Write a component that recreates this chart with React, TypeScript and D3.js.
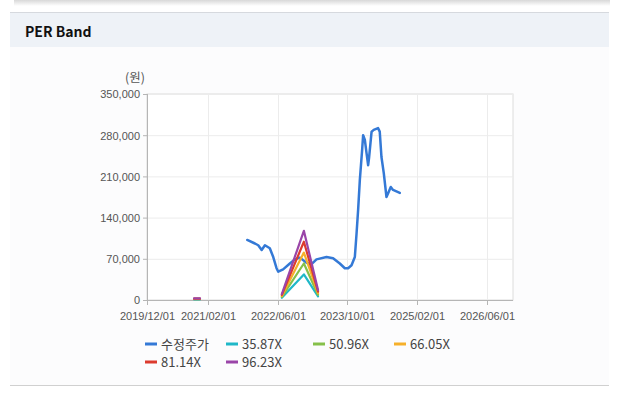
import * as d3 from 'd3';

// 수정주가 (adjusted price)
const priceDates = [
	'2021-10-31', '2021-12-24', '2022-01-16', '2022-02-09', '2022-03-04', '2022-04-07',
	'2022-05-01', '2022-05-24', '2022-06-05', '2022-07-09', '2022-08-25', '2022-09-29',
	'2022-11-03', '2022-12-15', '2023-01-20', '2023-02-27', '2023-05-08', '2023-06-23',
	'2023-08-09', '2023-09-13', '2023-10-06', '2023-10-30', '2023-11-22', '2023-12-04',
	'2023-12-15', '2023-12-27', '2024-01-12', '2024-01-19', '2024-01-31', '2024-02-12',
	'2024-02-23', '2024-03-01', '2024-03-18', '2024-04-02', '2024-05-02', '2024-05-14',
	'2024-05-26', '2024-06-11', '2024-06-30', '2024-07-11', '2024-07-30', '2024-08-15',
	'2024-10-01',
];
const priceValues = [
	102000, 96000, 93000, 85000, 93000, 88000,
	73000, 54000, 48000, 52000, 62000, 69000,
	72000, 64000, 60000, 69000, 73000, 71000,
	62000, 54000, 54000, 59000, 73000, 113000,
	153000, 204000, 255000, 280000, 272000, 249000,
	229000, 243000, 286000, 289000, 292000, 286000,
	243000, 216000, 175000, 181000, 192000, 187000,
	182000,
];

// PER band lines
const bandEarlyDates = ['2020-10-25', '2020-12-05'];
const bandDates = ['2022-06-30', '2022-12-01', '2023-03-10'];
const bandNames = ['35.87X', '50.96X', '66.05X', '81.14X', '96.23X'];
const bandEarly = [
	[1000, 1000],
	[1400, 1400],
	[1800, 1800],
	[2200, 2200],
	[2700, 2700],
];
const bandValues = [
	[3800, 43500, 6300],
	[5400, 62000, 8900],
	[7000, 80500, 11600],
	[8600, 99000, 14200],
	[10200, 117500, 16800],
];
const bandColors = ['#1fb8c8', '#86c04a', '#f6b02a', '#dc3b2e', '#9a45a8'];
const priceColor = '#3479d6';

const xTicks = ['2019-12-01', '2021-02-01', '2022-06-01', '2023-10-01', '2025-02-01', '2026-06-01'];
const yTicks = [0, 70000, 140000, 210000, 280000, 350000];

const W = 622,
	H = 398;
const plot = { left: 147, right: 513, top: 94, bottom: 300 };

const parse = d3.timeParse('%Y-%m-%d');
const fmtX = d3.timeFormat('%Y/%m/%d');
const fmtY = d3.format(',');

export default function App() {
	const x = d3
		.scaleTime()
		.domain([parse('2019-12-01')!, parse('2026-12-01')!])
		.range([plot.left, plot.right]);
	const y = d3.scaleLinear().domain([0, 350000]).range([plot.bottom, plot.top]);

	const line = d3
		.line<[string, number]>()
		.x((d) => x(parse(d[0])!))
		.y((d) => y(d[1]));

	const pricePts = priceDates.map((d, i) => [d, priceValues[i]] as [string, number]);

	const legendItems = [
		{ name: '수정주가', color: priceColor },
		...bandNames.map((n, i) => ({ name: n, color: bandColors[i] })),
	];
	const legendCols = [145, 226, 313, 394];

	const tickFont = '"Liberation Sans", Arial, sans-serif';

	return (
		<svg
			width={W}
			height={H}
			viewBox={`0 0 ${W} ${H}`}
			style={{ position: 'absolute', left: 0, top: 0, background: '#fff' }}
		>
			<defs>
				<linearGradient id="shadow" x1="0" x2="0" y1="0" y2="1">
					<stop offset="0" stopColor="#d8d8d8" />
					<stop offset="1" stopColor="#ffffff" />
				</linearGradient>
			</defs>
			{/* top shadow */}
			<rect x={14} y={0} width={596} height={6} fill="url(#shadow)" />

			{/* panel */}
			<rect x={10} y={12} width={599} height={35} fill="#eef2f7" />
			<line x1={10} x2={609} y1={12.5} y2={12.5} stroke="#d6d9de" />
			<rect x={10} y={47} width={599} height={338} fill="#fcfcfd" />
			<line x1={10} x2={609} y1={385.5} y2={385.5} stroke="#d0d0d0" />
			<text
				x={25}
				y={37}
				fontFamily='"Noto Sans CJK KR", "Noto Sans", sans-serif'
				fontWeight={700}
				fontSize={14}
				fill="#111"
			>
				PER Band
			</text>

			{/* plot background */}
			<rect
				x={plot.left}
				y={plot.top}
				width={plot.right - plot.left}
				height={plot.bottom - plot.top}
				fill="#fff"
				stroke="#dcdcdc"
			/>

			{/* grid */}
			<g stroke="#ececec">
				{yTicks.map((t) => (
					<line key={t} x1={plot.left} x2={plot.right} y1={y(t) + 0.5} y2={y(t) + 0.5} />
				))}
				{xTicks.map((t) => (
					<line
						key={t}
						x1={Math.round(x(parse(t)!)) + 0.5}
						x2={Math.round(x(parse(t)!)) + 0.5}
						y1={plot.top}
						y2={plot.bottom}
					/>
				))}
			</g>

			{/* left axis */}
			<g fontFamily={tickFont} fontSize={11} fill="#555">
				<line x1={plot.left + 0.5} x2={plot.left + 0.5} y1={plot.top} y2={plot.bottom} stroke="#b5b5b5" />
				{yTicks.map((t) => (
					<g key={t} transform={`translate(0, ${y(t) + 0.5})`}>
						<line x1={plot.left - 4} x2={plot.left} stroke="#b5b5b5" />
						<text x={plot.left - 7} textAnchor="end" dy="0.35em">
							{fmtY(t)}
						</text>
					</g>
				))}
				<text
					x={135}
					y={82}
					textAnchor="middle"
					fontFamily='"Noto Sans CJK KR", sans-serif'
					fontSize={12.5}
					fill="#555"
				>
					(원)
				</text>
			</g>

			{/* bottom axis */}
			<g fontFamily={tickFont} fontSize={11} fill="#555">
				<line x1={plot.left} x2={plot.right} y1={plot.bottom + 0.5} y2={plot.bottom + 0.5} stroke="#b5b5b5" />
				{xTicks.map((t) => {
					const px = Math.round(x(parse(t)!)) + 0.5;
					return (
						<g key={t} transform={`translate(${px}, 0)`}>
							<line y1={plot.bottom} y2={plot.bottom + 5} stroke="#b5b5b5" />
							<text y={plot.bottom + 20} textAnchor="middle">
								{fmtX(parse(t)!)}
							</text>
						</g>
					);
				})}
			</g>

			{/* series */}
			<g fill="none" strokeLinejoin="round" strokeLinecap="round">
				<path d={line(pricePts)!} stroke={priceColor} strokeWidth={2.5} />
				{bandValues.map((vals, i) => (
					<g key={bandNames[i]} stroke={bandColors[i]} strokeWidth={2.2}>
						<path d={line(bandDates.map((d, j) => [d, vals[j]] as [string, number]))!} />
						<path d={line(bandEarlyDates.map((d, j) => [d, bandEarly[i][j]] as [string, number]))!} />
					</g>
				))}
			</g>

			{/* legend */}
			<g fontFamily='"Noto Sans CJK KR", "Liberation Sans", sans-serif' fontSize={13} fill="#444">
				{legendItems.map((item, i) => {
					const col = i % 4;
					const row = Math.floor(i / 4);
					const lx = legendCols[col];
					const ly = 344 + row * 18;
					return (
						<g key={item.name} transform={`translate(${lx}, ${ly})`}>
							<line x1={0} x2={12} y1={0} y2={0} stroke={item.color} strokeWidth={3} />
							<text x={16} dy="0.35em">
								{item.name}
							</text>
						</g>
					);
				})}
			</g>
		</svg>
	);
}
